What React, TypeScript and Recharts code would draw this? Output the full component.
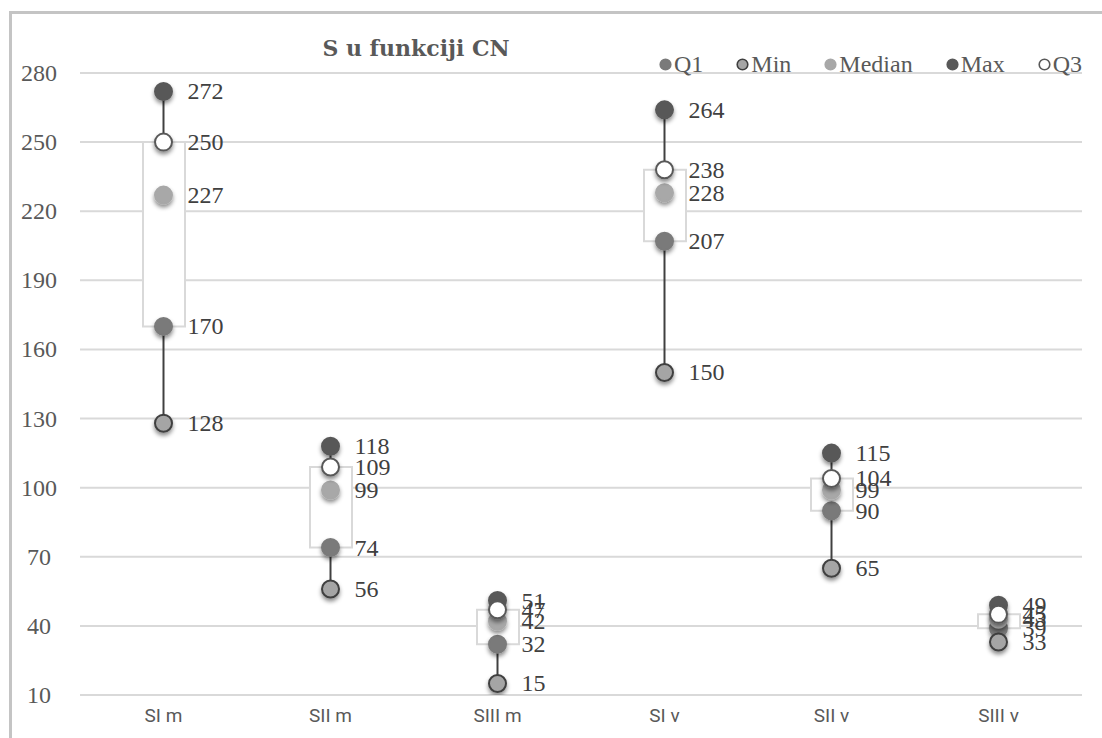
import React from "react";
import {
  ComposedChart,
  Bar,
  Scatter,
  ErrorBar,
  XAxis,
  YAxis,
  CartesianGrid,
} from "recharts";

const categories = ["SI m", "SII m", "SIII m", "SI v", "SII v", "SIII v"];
const minVals = [128, 56, 15, 150, 65, 33];
const q1Vals = [170, 74, 32, 207, 90, 39];
const medianVals = [227, 99, 42, 228, 99, 43];
const q3Vals = [250, 109, 47, 238, 104, 45];
const maxVals = [272, 118, 51, 264, 115, 49];
const yTicks = [10, 40, 70, 100, 130, 160, 190, 220, 250, 280];

const chartData = categories.map((name, i) => ({
  name,
  min: minVals[i],
  q1: q1Vals[i],
  median: medianVals[i],
  q3: q3Vals[i],
  max: maxVals[i],
  box: [q1Vals[i], q3Vals[i]],
  lowWhisker: [q1Vals[i] - minVals[i], 0],
  highWhisker: [maxVals[i] - q3Vals[i], 0],
}));

const serif = "'Liberation Serif', 'DejaVu Serif', serif";

// marker styles per series, legend order (also draw order: Q3 on top)
const SERIES = [
  { key: "q1", name: "Q1", fill: "#7a7a7a", stroke: "#7a7a7a" },
  { key: "min", name: "Min", fill: "#a5a5a5", stroke: "#3f3f3f" },
  { key: "median", name: "Median", fill: "#a8a8a8", stroke: "#a8a8a8" },
  { key: "max", name: "Max", fill: "#595959", stroke: "#595959" },
  { key: "q3", name: "Q3", fill: "#ffffff", stroke: "#595959" },
];

const makeShape = (key: string, fill: string, stroke: string) => (props: any) => {
  const { cx, cy, payload } = props;
  return (
    <g>
      <circle
        cx={cx}
        cy={cy}
        r={8.5}
        fill={fill}
        stroke={stroke}
        strokeWidth={2}
        filter="url(#dotShadow)"
      />
      <text
        x={cx + 24}
        y={cy}
        dominantBaseline="central"
        fontFamily={serif}
        fontSize={24}
        fill="#404040"
      >
        {payload[key]}
      </text>
    </g>
  );
};

const YTick = (props: any) => (
  <text
    x={props.x - 33}
    y={props.y}
    textAnchor="middle"
    dominantBaseline="central"
    fontFamily={serif}
    fontSize={24}
    fill="#595959"
  >
    {props.payload.value}
  </text>
);

export default function App() {
  return (
    <div
      style={{
        position: "fixed",
        left: 0,
        top: 0,
        width: 1102,
        height: 738,
        overflow: "hidden",
        background: "#fff",
      }}
    >
      <svg width={0} height={0} style={{ position: "absolute" }}>
        <defs>
          <filter id="dotShadow" x="-50%" y="-50%" width="200%" height="220%">
            <feDropShadow dx={0} dy={3} stdDeviation={2} floodColor="#000" floodOpacity={0.45} />
          </filter>
        </defs>
      </svg>
      <div
        style={{
          position: "absolute",
          left: 9,
          top: 11,
          width: 1120,
          height: 760,
          border: "3px solid #c4c4c4",
        }}
      />
      <div
        style={{
          position: "absolute",
          left: 0,
          width: 832,
          top: 35,
          textAlign: "center",
          fontFamily: "'DejaVu Serif', serif",
          fontWeight: "bold",
          fontSize: 22,
          color: "#595959",
        }}
      >
        S u funkciji CN
      </div>
      <div
        style={{
          position: "absolute",
          left: 659,
          top: 50,
          display: "flex",
          fontFamily: serif,
          fontSize: 24,
          color: "#595959",
          lineHeight: "28px",
          zIndex: 2,
        }}
      >
        {SERIES.map((s) => (
          <div key={s.key} style={{ display: "flex", alignItems: "center", marginRight: 33 }}>
            <svg width={13} height={13} style={{ marginRight: 2 }}>
              <circle cx={6.5} cy={6.5} r={5.3} fill={s.fill} stroke={s.stroke} strokeWidth={1.6} />
            </svg>
            {s.name}
          </div>
        ))}
      </div>
      <div style={{ position: "absolute", left: 0, top: 0 }}>
        <ComposedChart
          width={1102}
          height={738}
          data={chartData}
          margin={{ top: 73, right: 20, bottom: 3, left: 20 }}
        >
          <CartesianGrid vertical={false} stroke="#d9d9d9" strokeWidth={2} />
          <XAxis
            dataKey="name"
            axisLine={false}
            tickLine={false}
            height={40}
            tick={{ fill: "#595959", fontSize: 19, fontFamily: "'Liberation Sans Narrow', Roboto, sans-serif" }}
            dy={6}
          />
          <YAxis
            width={60}
            domain={[10, 280]}
            ticks={yTicks}
            axisLine={false}
            tickLine={false}
            tick={<YTick />}
            allowDataOverflow
          />
          <Bar
            dataKey="box"
            barSize={42}
            fill="#ffffff"
            stroke="#d9d9d9"
            strokeWidth={2}
            isAnimationActive={false}
            legendType="none"
          />
          {SERIES.map((s) => (
            <Scatter
              key={s.key}
              name={s.name}
              dataKey={s.key}
              isAnimationActive={false}
              shape={makeShape(s.key, s.fill, s.stroke)}
            >
              {s.key === "q1" && (
                <ErrorBar dataKey="lowWhisker" direction="y" width={0} stroke="#404040" strokeWidth={2} />
              )}
              {s.key === "max" && (
                <ErrorBar dataKey="highWhisker" direction="y" width={0} stroke="#404040" strokeWidth={2} />
              )}
            </Scatter>
          ))}
        </ComposedChart>
      </div>
    </div>
  );
}
